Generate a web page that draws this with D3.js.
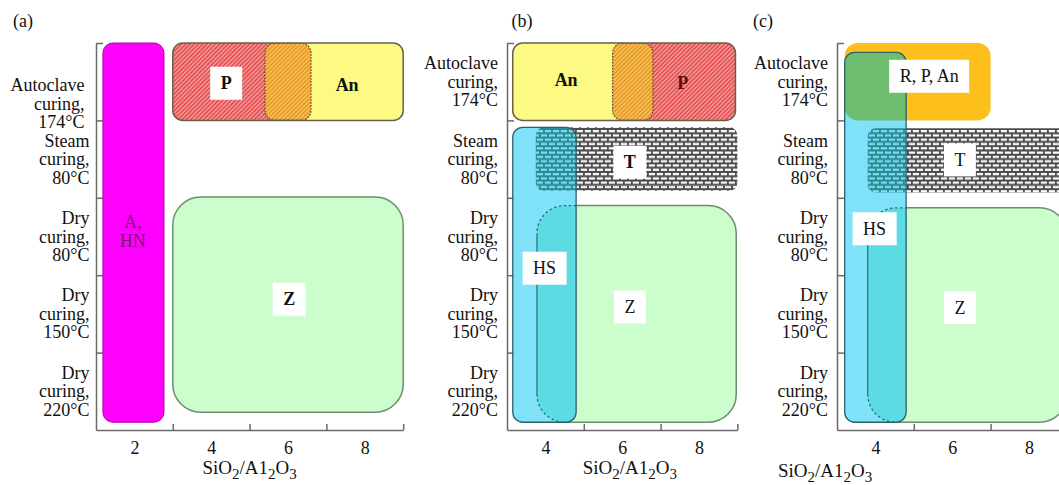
<!DOCTYPE html>
<html>
<head>
<meta charset="utf-8">
<script src="https://cdn.jsdelivr.net/npm/d3@7"></script>
<style>
  html, body { margin: 0; padding: 0; background: #fff; }
  svg { display: block; font-family: "Liberation Serif", "Times New Roman", serif; }
</style>
</head>
<body>
<svg id="chart" width="1059" height="485"></svg>
<script>
// Curing regimes, one row each, top to bottom
const curingRegimes = [
  ["Autoclave", "curing,", "174°C"],
  ["Steam", "curing,", "80°C"],
  ["Dry", "curing,", "80°C"],
  ["Dry", "curing,", "150°C"],
  ["Dry", "curing,", "220°C"]
];

// SiO2/Al2O3 axis: labelled values and the boundary tick marks
const ratioLabelsA = [2, 4, 6, 8];
const ratioBoundsA = [3, 5, 7, 9];
const ratioLabelsBC = [4, 6, 8];
const ratioBoundsBC = [5, 7, 9];

// Phase fields: SiO2/Al2O3 range [x0, x1] and curing-row range [y0, y1]
// (row units, 0 = top of the autoclave row, 5 = bottom of the 220 °C row)
const phasesA = [
  { id: "AHN", x0: 1.18, x1: 2.77, y0: 0.00, y1: 4.90 },
  { id: "P",   x0: 3.00, x1: 6.60, y0: 0.00, y1: 1.00 },
  { id: "An",  x0: 5.40, x1: 9.00, y0: 0.00, y1: 1.00 },
  { id: "Z",   x0: 3.00, x1: 9.00, y0: 1.99, y1: 4.77 }
];
const phasesB = [
  { id: "An", x0: 3.15, x1: 6.80, y0: 0.00, y1: 1.00 },
  { id: "P",  x0: 5.75, x1: 8.95, y0: 0.00, y1: 1.00 },
  { id: "T",  x0: 3.75, x1: 9.00, y0: 1.09, y1: 1.91 },
  { id: "Z",  x0: 3.78, x1: 8.97, y0: 2.10, y1: 4.90 },
  { id: "HS", x0: 3.15, x1: 4.80, y0: 1.09, y1: 4.90 }
];
const phasesC = [
  { id: "RPAn", x0: 3.20, x1: 7.00, y0: 0.00, y1: 1.00 },
  { id: "T",    x0: 3.80, x1: 9.00, y0: 1.10, y1: 1.93 },
  { id: "Z",    x0: 3.80, x1: 9.00, y0: 2.13, y1: 4.90 },
  { id: "HS",   x0: 3.20, x1: 4.80, y0: 0.12, y1: 4.90 }
];

// Phase names, placed at (SiO2/Al2O3, row units)
const marksA = [
  { text: "A,\nHN", x: 1.96, y: 2.43 },
  { text: "P",  x: 4.39, y: 0.52 },
  { text: "An", x: 7.54, y: 0.54 },
  { text: "Z",  x: 6.03, y: 3.31 }
];
const marksB = [
  { text: "An", x: 4.54, y: 0.48 },
  { text: "P",  x: 7.58, y: 0.52 },
  { text: "T",  x: 6.20, y: 1.54 },
  { text: "HS", x: 3.98, y: 2.91 },
  { text: "Z",  x: 6.20, y: 3.41 }
];
const marksC = [
  { text: "R, P, An", x: 5.40, y: 0.43 },
  { text: "T",  x: 6.20, y: 1.51 },
  { text: "HS", x: 3.98, y: 2.40 },
  { text: "Z",  x: 6.20, y: 3.42 }
];

// ---- layout & look ----
const UNIT = 38.4;            // px per SiO2/Al2O3 unit
const TOP = 43, BOTTOM = 430;
const AXIS = "#6a6a6a";
const radius = { AHN: 10, P: 10, An: 10, Z: 28, HS: 10, T: 8, RPAn: 13 };

const markLook = {
  "a:A,\nHN": { color: "#7a167a" },
  "a:P":  { box: true, bold: true },
  "a:An": { bold: true },
  "a:Z":  { box: true, bold: true },
  "b:An": { bold: true },
  "b:P":  { bold: true, color: "#5a1010" },
  "b:T":  { box: true, bold: true },
  "b:HS": { box: true },
  "b:Z":  { box: true },
  "c:R, P, An": { box: true },
  "c:T":  { box: true },
  "c:HS": { box: true },
  "c:Z":  { box: true }
};

const panels = [
  { key: "a", tag: "(a)", tagX: 23,  left: 96,  domain: [1, 9], labels: ratioLabelsA,  bounds: ratioBoundsA,
    phases: phasesA, marks: marksA, labelGap: 6.5, titleAt: 5.0, titleY: 474, firstRow: [-5, 22] },
  { key: "b", tag: "(b)", tagX: 522, left: 507, domain: [3, 9], labels: ratioLabelsBC, bounds: ratioBoundsBC,
    phases: phasesB, marks: marksB, labelGap: 9, titleAt: 6.2, titleY: 474, firstRow: [0, 0] },
  { key: "c", tag: "(c)", tagX: 763, left: 837, domain: [3, 9], labels: ratioLabelsBC, bounds: ratioBoundsBC,
    phases: phasesC, marks: marksC, labelGap: 9, titleAt: 2.69, titleY: 477, firstRow: [0, 0] }
];

const svg = d3.select("#chart");
const defs = svg.append("defs");

// diagonal hatching
function hatch(id, bg, line) {
  const p = defs.append("pattern").attr("id", id).attr("patternUnits", "userSpaceOnUse")
    .attr("width", 3).attr("height", 3).attr("patternTransform", "rotate(45)");
  p.append("rect").attr("width", 3).attr("height", 3).attr("fill", bg);
  p.append("line").attr("x1", 0.5).attr("y1", 0).attr("x2", 0.5).attr("y2", 3)
    .attr("stroke", line).attr("stroke-width", 1);
}
// brick texture
function brick(id, mortar, face) {
  const p = defs.append("pattern").attr("id", id).attr("patternUnits", "userSpaceOnUse")
    .attr("width", 8).attr("height", 8.6);
  p.append("rect").attr("width", 8).attr("height", 8.6).attr("fill", mortar);
  [[0.8, 1.0], [4.8, 5.3], [-3.2, 5.3]].forEach(([bx, by]) =>
    p.append("rect").attr("x", bx).attr("y", by).attr("width", 6.2).attr("height", 2.2).attr("fill", face));
}
hatch("hatch-red", "#f68c8c", "#d63e3e");
hatch("hatch-orange", "#f8bb4c", "#d98e26");
brick("brick-grey", "#4b4b4b", "#ffffff");
brick("brick-teal", "#2b8796", "#7be0ee");

function drawPanel(P) {
  const g = svg.append("g").attr("class", "panel-" + P.key);
  const x = d3.scaleLinear().domain(P.domain)
    .range([P.left, P.left + (P.domain[1] - P.domain[0]) * UNIT]);
  const y = d3.scaleLinear().domain([0, curingRegimes.length]).range([TOP, BOTTOM]);
  const row = d3.scaleBand().domain(d3.range(curingRegimes.length)).range([TOP, BOTTOM]);
  const ph = new Map(P.phases.map(d => [d.id, d]));

  const geo = d => ({ x: x(d.x0), y: y(d.y0), w: x(d.x1) - x(d.x0), h: y(d.y1) - y(d.y0) });
  const rect = (sel, d, r) => {
    const b = geo(d);
    return sel.append("rect").attr("x", b.x).attr("y", b.y)
      .attr("width", b.w).attr("height", b.h).attr("rx", r).attr("ry", r);
  };
  const clipOf = id => {
    const cid = `clip-${P.key}-${id}`;
    rect(defs.append("clipPath").attr("id", cid), ph.get(id), radius[id]);
    return `url(#${cid})`;
  };

  // ---- phase fields ----
  if (ph.has("AHN")) {
    rect(g, ph.get("AHN"), radius.AHN).attr("fill", "#ff00ff").attr("stroke", "#b000b0").attr("stroke-width", 1);
  }
  if (ph.has("P") && ph.has("An")) {
    const p = ph.get("P"), an = ph.get("An");
    const clipP = clipOf("P"), clipAn = clipOf("An");
    rect(g, an, radius.An).attr("fill", "#fcfa82");
    rect(g, p, radius.P).attr("fill", "url(#hatch-red)");
    rect(g, p, radius.P).attr("fill", "url(#hatch-orange)").attr("clip-path", clipAn);
    rect(g, p, radius.P).attr("fill", "none").attr("stroke", "#5e4a2a").attr("stroke-width", 1.2)
      .attr("stroke-dasharray", "1.5,1.5").attr("clip-path", clipAn);
    rect(g, an, radius.An).attr("fill", "none").attr("stroke", "#5e4a2a").attr("stroke-width", 1.2)
      .attr("stroke-dasharray", "1.5,1.5").attr("clip-path", clipP);
    const whole = { x0: Math.min(p.x0, an.x0), x1: Math.max(p.x1, an.x1), y0: p.y0, y1: p.y1 };
    rect(g, whole, radius.P).attr("fill", "none").attr("stroke", "#66604a").attr("stroke-width", 1.5);
  }
  if (ph.has("RPAn")) {
    rect(g, ph.get("RPAn"), radius.RPAn).attr("fill", "#fdbf1c");
  }
  if (ph.has("T")) {
    rect(g, ph.get("T"), radius.T).attr("fill", "url(#brick-grey)");
  }
  if (ph.has("Z")) {
    rect(g, ph.get("Z"), radius.Z).attr("fill", "#ccfdcc").attr("stroke", "#6e8c6e").attr("stroke-width", 1.5);
  }
  if (ph.has("HS")) {
    const hs = ph.get("HS");
    const clipHS = clipOf("HS");
    rect(g, hs, radius.HS).attr("fill", "#80e2f8");
    if (ph.has("RPAn")) rect(g, ph.get("RPAn"), radius.RPAn).attr("fill", "#6fbd70").attr("clip-path", clipHS);
    if (ph.has("T")) rect(g, ph.get("T"), radius.T).attr("fill", "url(#brick-teal)").attr("clip-path", clipHS);
    if (ph.has("Z")) {
      const z = ph.get("Z"), b = geo(z), r = radius.Z;
      rect(g, z, r).attr("fill", "#5cdce2").attr("clip-path", clipHS);
      // edge of Z inside HS: straight side solid, rounded corners dotted
      const side = d3.path();
      side.moveTo(b.x, b.y + r); side.lineTo(b.x, b.y + b.h - r);
      g.append("path").attr("d", side.toString()).attr("fill", "none")
        .attr("stroke", "#2c6c78").attr("stroke-width", 1.2).attr("clip-path", clipHS);
      const bends = d3.path();
      bends.moveTo(b.x + b.w, b.y); bends.lineTo(b.x + r, b.y); bends.arcTo(b.x, b.y, b.x, b.y + r, r);
      bends.moveTo(b.x, b.y + b.h - r); bends.arcTo(b.x, b.y + b.h, b.x + r, b.y + b.h, r);
      g.append("path").attr("d", bends.toString()).attr("fill", "none")
        .attr("stroke", "#2c6c78").attr("stroke-width", 1.3).attr("stroke-dasharray", "2.5,2.5")
        .attr("clip-path", clipHS);
    }
    rect(g, hs, radius.HS).attr("fill", "none").attr("stroke", "#2e5f6a").attr("stroke-width", 1.3);
  }

  // ---- phase names ----
  P.marks.forEach(m => {
    const look = markLook[P.key + ":" + m.text] || {};
    const cx = x(m.x), cy = y(m.y);
    const lines = m.text.split("\n");
    const mg = g.append("g");
    const t = mg.append("text").attr("text-anchor", "middle")
      .attr("font-size", 18).attr("font-weight", look.bold ? "bold" : "normal")
      .attr("fill", look.color || "#111");
    lines.forEach((ln, k) => {
      t.append("tspan").attr("x", cx)
        .attr("y", cy + 6 + (k - (lines.length - 1) / 2) * 19).text(ln);
    });
    if (look.box) {
      const w = t.node().getComputedTextLength() + 21;
      mg.insert("rect", "text").attr("x", cx - w / 2).attr("y", cy - 16.5)
        .attr("width", w).attr("height", 33).attr("fill", "#fff");
    }
  });

  // ---- axes ----
  const yAxis = g.append("g").attr("transform", `translate(${P.left},0)`)
    .call(d3.axisLeft(y).tickValues(d3.range(curingRegimes.length)).tickSize(-7).tickSizeOuter(0).tickFormat(""));
  const xAxis = g.append("g").attr("transform", `translate(0,${BOTTOM})`)
    .call(d3.axisBottom(x).tickValues(P.bounds).tickSize(-6).tickSizeOuter(0).tickFormat(""));
  [yAxis, xAxis].forEach(a => a.selectAll("path, line").attr("stroke", AXIS).attr("stroke-width", 1.5));

  const xLabels = g.append("g").attr("transform", `translate(0,${BOTTOM})`)
    .call(d3.axisBottom(x).tickValues(P.labels).tickSize(0).tickPadding(11).tickFormat(d3.format("d")));
  xLabels.select(".domain").remove();
  xLabels.selectAll("text").attr("font-size", 18).attr("fill", "#111")
    .attr("font-family", '"Liberation Serif", "Times New Roman", serif');

  // curing-regime labels
  curingRegimes.forEach((lines, i) => {
    const shift = i === 0 ? P.firstRow : [0, 0];
    const yc = row(i) + row.bandwidth() / 2 + shift[1];
    const t = g.append("text").attr("text-anchor", "end").attr("font-size", 18).attr("fill", "#111");
    lines.forEach((ln, k) => {
      t.append("tspan").attr("x", P.left - P.labelGap + shift[0])
        .attr("y", yc + 6 + (k - 1) * 18.5).text(ln);
    });
  });

  // axis title SiO2/Al2O3
  const title = g.append("text").attr("x", x(P.titleAt)).attr("y", P.titleY)
    .attr("text-anchor", "middle").attr("font-size", 19).attr("fill", "#111");
  [["SiO", 0], ["2", 1], ["/A1", 0], ["2", 1], ["O", 0], ["3", 1]].forEach(([s, sub], k, arr) => {
    const prevSub = k > 0 ? arr[k - 1][1] : 0;
    title.append("tspan").attr("font-size", sub ? 15 : 19)
      .attr("dy", sub === prevSub ? 0 : (sub ? 5 : -5)).text(s);
  });

  // panel tag
  g.append("text").attr("x", P.tagX).attr("y", 27).attr("text-anchor", "middle")
    .attr("font-size", 18).attr("fill", "#111").text(P.tag);
}

panels.forEach(drawPanel);
</script>
</body>
</html>
